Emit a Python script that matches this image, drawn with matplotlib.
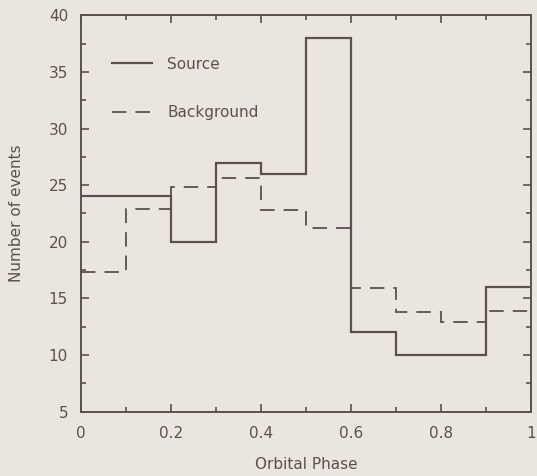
import numpy as np
import matplotlib.pyplot as plt
from matplotlib.ticker import MultipleLocator, FixedLocator

# phase bin edges and counts
bin_edges = [0.0, 0.1, 0.2, 0.3, 0.4, 0.5, 0.6, 0.7, 0.8, 0.9, 1.0]
source_counts = [24, 24, 20, 27, 26, 38, 12, 10, 10, 16]
background_counts = [17.3, 22.9, 24.8, 25.6, 22.8, 21.2, 15.9, 13.8, 12.9, 13.9]
x_ticks = [0, 0.2, 0.4, 0.6, 0.8, 1]
x_tick_labels = ['0', '0.2', '0.4', '0.6', '0.8', '1']

ink = '#5a5050'
paper = '#ebe5df'

plt.rcParams['font.family'] = ['DejaVu Sans']

fig = plt.figure(figsize=(5.37, 4.76), dpi=100, facecolor=paper)
ax = fig.add_axes([0.150, 0.135, 0.839, 0.833], facecolor=paper)

ax.stairs(source_counts, bin_edges, baseline=None, color=ink, lw=1.6,
          label='Source')
ax.stairs(background_counts, bin_edges, baseline=None, color=ink, lw=1.3,
          linestyle=(0, (8, 5)), label='Background')

ax.set_xlim(0, 1)
ax.set_ylim(5, 40)
ax.set_xticks(x_ticks)
ax.set_xticklabels(x_tick_labels)
ax.xaxis.set_minor_locator(MultipleLocator(0.1))
ax.yaxis.set_major_locator(MultipleLocator(5))
ax.yaxis.set_minor_locator(MultipleLocator(2.5))

ax.tick_params(which='both', direction='in', top=True, right=True,
               colors=ink, labelcolor=ink, labelsize=11)
ax.tick_params(which='major', length=6, width=1.2)
ax.tick_params(which='minor', length=3.5, width=1.2)
ax.tick_params(axis='x', pad=10)
ax.tick_params(axis='y', pad=9)
for s in ax.spines.values():
    s.set_color(ink)
    s.set_linewidth(1.4)

ax.set_xlabel('Orbital Phase', color=ink, fontsize=11, labelpad=12)
ax.set_ylabel('Number of events', color=ink, fontsize=11, labelpad=18)

leg = ax.legend(loc='upper left', bbox_to_anchor=(0.04, 0.93), frameon=False,
                handlelength=2.6, handletextpad=1.0, labelspacing=2.2,
                fontsize=11)
for t in leg.get_texts():
    t.set_color(ink)

fig.savefig('out.png', dpi=100, facecolor=paper)
